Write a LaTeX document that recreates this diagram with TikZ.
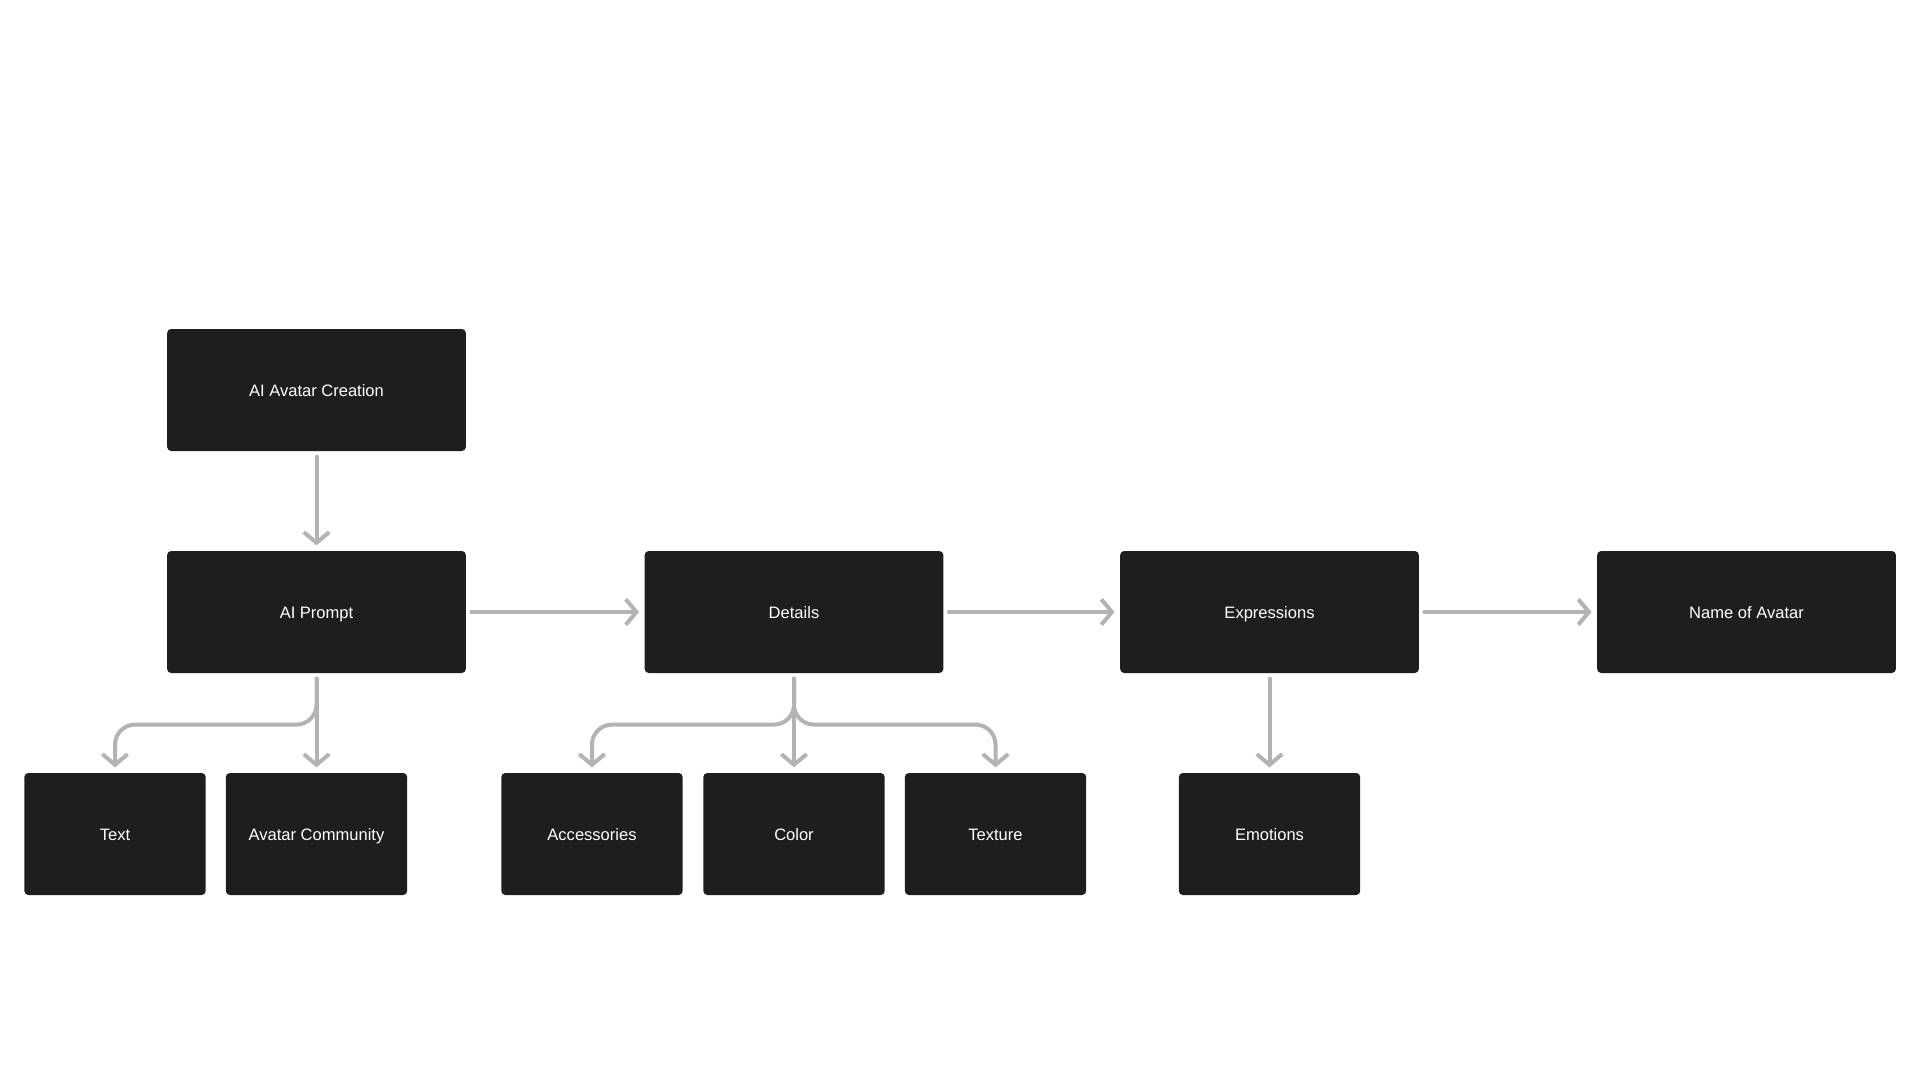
\documentclass[tikz,border=0pt]{standalone}
\usepackage{fontspec}
\setmainfont{Liberation Sans}
\usetikzlibrary{arrows.meta}
\definecolor{boxgray}{HTML}{1E1E1E}
\definecolor{arrgray}{HTML}{B3B3B3}

\begin{document}
\begin{tikzpicture}[x=0.75pt,y=-0.75pt,>={Straight Barb[length=8pt,width=19pt]},
  box/.style={fill=boxgray,rounded corners=3pt,text=white,inner sep=0pt,minimum height=91.5pt,text height=9.8pt,text depth=0.4pt,font=\fontsize{12.4}{15}\selectfont},
  bigbox/.style={box,minimum width=224pt},
  smallbox/.style={box,minimum width=136pt},
  arr/.style={->,draw=arrgray,line width=3pt,line cap=round,line join=round,rounded corners=15pt}]
  \useasboundingbox (0,0) rectangle (1920,1081);
  % main row
  \node[bigbox] (creation) at (316.5,390) {AI Avatar Creation};
  \node[bigbox] (prompt) at (316.5,612) {AI Prompt};
  \node[bigbox] (details) at (794,612) {Details};
  \node[bigbox] (expr) at (1269.5,612) {Expressions};
  \node[bigbox] (name) at (1746.5,612) {Name of Avatar};
  % lower row
  \node[smallbox] (text) at (115,834) {Text};
  \node[smallbox] (community) at (316.5,834) {Avatar Community};
  \node[smallbox] (access) at (592,834) {Accessories};
  \node[smallbox] (color) at (794,834) {Color};
  \node[smallbox] (texture) at (995.5,834) {Texture};
  \node[smallbox] (emotions) at (1269.5,834) {Emotions};

  \draw[arr]([yshift=-4pt]creation.south)--([yshift=4pt]prompt.north);
  \draw[arr]([xshift=4pt]prompt.east)--([xshift=-4pt]details.west);
  \draw[arr]([xshift=4pt]details.east)--([xshift=-4pt]expr.west);
  \draw[arr]([xshift=4pt]expr.east)--([xshift=-4pt]name.west);

  \draw[arr]([yshift=-4pt]prompt.south)--++(0,46)-|([yshift=4pt]text.north);
  \draw[arr]([yshift=-4pt]prompt.south)--([yshift=4pt]community.north);
  \draw[arr]([yshift=-4pt]details.south)--++(0,46)-|([yshift=4pt]access.north);
  \draw[arr]([yshift=-4pt]details.south)--([yshift=4pt]color.north);
  \draw[arr]([yshift=-4pt]details.south)--++(0,46)-|([yshift=4pt]texture.north);
  \draw[arr]([yshift=-4pt]expr.south)--([yshift=4pt]emotions.north);
\end{tikzpicture}
\end{document}
